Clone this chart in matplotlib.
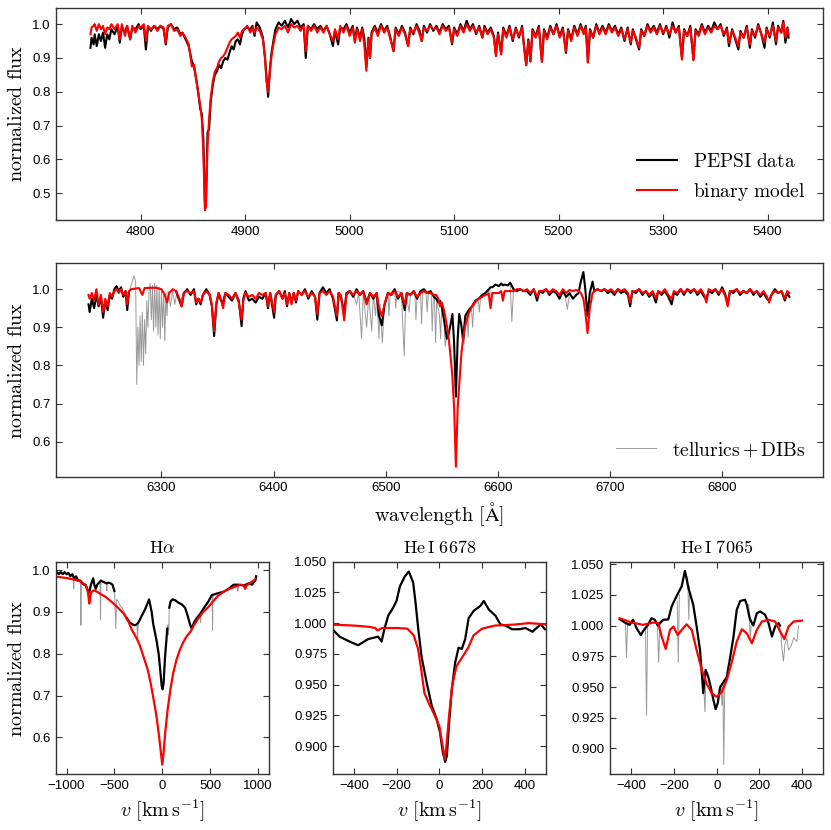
import numpy as np
import matplotlib
matplotlib.use('Agg')
import matplotlib.pyplot as plt
from matplotlib.ticker import FormatStrFormatter, MultipleLocator

nan = np.nan

# ---- top panel: 4750-5420 A (PEPSI blue arm) ----
top_wl = [4752, 4753, 4755, 4756, 4758, 4760, 4762, 4764, 4766, 4768,
          4770, 4772, 4775, 4778, 4780, 4782, 4785, 4787, 4790, 4792,
          4795, 4798, 4800, 4803, 4805, 4807, 4810, 4813, 4816, 4819,
          4822, 4824, 4826, 4829, 4832, 4835, 4838, 4840, 4843, 4846,
          4849, 4851, 4853, 4855, 4857, 4858.5, 4860, 4861.5, 4862.5, 4864,
          4865.5, 4867, 4869, 4871, 4873, 4875, 4877, 4879, 4881, 4883,
          4885, 4887, 4889, 4891, 4893, 4895, 4897, 4899, 4902, 4905,
          4907, 4909, 4911, 4914, 4917, 4919, 4920.5, 4922, 4923.5, 4925,
          4927, 4929, 4932, 4935, 4938, 4941, 4944, 4947, 4950, 4953,
          4956, 4958, 4960, 4963, 4966, 4969, 4972, 4975, 4978, 4981,
          4984, 4986, 4989, 4991, 4994, 4997, 5000, 5003, 5005, 5007,
          5010, 5012, 5014, 5016, 5018, 5019.5, 5021, 5024, 5027, 5030,
          5033, 5036, 5039, 5042, 5044, 5047, 5050, 5053, 5056, 5058,
          5061, 5064, 5067, 5069, 5071, 5074, 5077, 5080, 5083, 5086,
          5089, 5092, 5095, 5098, 5100, 5103, 5106, 5109, 5112, 5115,
          5118, 5121, 5124, 5127, 5129, 5132, 5135, 5138, 5140, 5142,
          5145, 5147, 5150, 5153, 5156, 5159, 5162, 5165, 5167, 5169,
          5171, 5173, 5175, 5178, 5181, 5184, 5186, 5189, 5192, 5195,
          5198, 5201, 5204, 5207, 5209, 5212, 5215, 5218, 5221, 5224,
          5226, 5228, 5230, 5233, 5236, 5239, 5242, 5245, 5248, 5251,
          5254, 5257, 5260, 5263, 5266, 5269, 5271, 5274, 5277, 5279,
          5282, 5285, 5288, 5291, 5294, 5297, 5300, 5303, 5306, 5309,
          5312, 5315, 5318, 5320, 5323, 5326, 5329, 5331, 5334, 5337,
          5340, 5343, 5346, 5349, 5352, 5355, 5358, 5361, 5363, 5366,
          5369, 5372, 5374, 5377, 5380, 5383, 5385, 5388, 5391, 5394,
          5397, 5399, 5402, 5405, 5408, 5410, 5413, 5415, 5417, 5419,
          5420]
top_data = [.93, .96, .94, .97, .935, .97, .95, .975, .93, .97,
            .955, .985, .97, .995, .945, .99, .975, .995, .955, .99,
            .985, 1.0, .985, .995, .925, .99, .98, .995, .985, .995,
            .985, .94, .99, 1.0, .985, .99, .97, .975, .955, .935,
            .89, .875, .84, .80, .75, .735, .66, .47, .48, .68,
            .69, .77, .82, .85, .86, .88, .87, .89, .90, .895,
            .915, .935, .925, .95, .955, .94, .97, .985, .99, .985,
            .995, .965, 1.005, .99, .96, .90, .84, .785, .86, .91,
            .95, .985, 1.005, .995, 1.01, .99, 1.015, 1.0, 1.01, .99,
            1.0, .90, .995, .985, 1.0, .985, .995, .98, .995, .97,
            .935, .98, .94, .99, .985, 1.0, .975, .995, .95, .99,
            .96, .99, .96, .875, .96, .90, .975, .995, .975, 1.0,
            .98, .995, .96, .92, .99, .97, .995, .975, .935, .99,
            .97, 1.0, .98, .95, .995, .975, 1.0, .98, .995, .975,
            1.0, .985, .995, .94, .99, .97, 1.0, .98, 1.01, .985,
            1.0, .97, .995, .96, .995, .975, .99, .965, .91, .975,
            .915, .99, .965, .995, .95, .99, .96, .995, .93, .88,
            .955, .89, .985, .965, .995, .89, .985, .96, .995, .97,
            1.0, .965, .99, .915, .985, .955, .995, .97, 1.0, .975,
            .995, .888, .985, .96, 1.0, .975, .995, .975, 1.0, .98,
            .995, .97, .99, .95, .99, .94, .985, .955, .925, .985,
            .965, 1.0, .98, .995, .975, 1.0, .97, .995, .96, 1.005,
            .975, .995, .90, .985, .965, .995, .895, .985, .97, 1.0,
            .975, .995, .98, 1.005, .985, 1.0, .965, .99, .935, .985,
            .955, .925, .98, .96, .995, .93, .985, .96, 1.0, .97,
            .93, .99, .96, 1.005, .94, .995, .975, 1.01, .945, .99,
            .96]
top_model = [.97, .99, .995, 1.0, .98, 1.0, .985, .995, .97, .99,
             .985, 1.0, .985, 1.0, .955, 1.0, .965, .995, .955, .995,
             .975, .995, .99, 1.0, .95, .995, .985, .995, .98, .995,
             .99, .945, .995, 1.0, .98, .985, .965, .975, .96, .94,
             .875, .88, .84, .80, .76, .72, .62, .45, .46, .64,
             .72, .78, .83, .86, .87, .89, .90, .905, .915, .93,
             .945, .955, .96, .965, .975, .96, .98, .985, .995, .975,
             .99, .975, .99, .98, .955, .90, .83, .80, .85, .90,
             .94, .97, .99, .985, .995, .975, 1.0, .99, .995, .98,
             .995, .92, .995, .98, .995, .975, .99, .975, .995, .97,
             .95, .985, .955, .995, .975, .995, .965, .99, .945, .985,
             .95, .985, .94, .862, .955, .90, .97, .99, .965, .995,
             .975, .99, .955, .92, .985, .965, .99, .97, .935, .985,
             .975, .995, .97, .95, .99, .98, .995, .985, .99, .97,
             .995, .98, .99, .945, .985, .965, .995, .975, 1.0, .98,
             .995, .975, .99, .96, .99, .97, .985, .96, .905, .97,
             .91, .985, .96, .99, .955, .985, .965, .99, .93, .878,
             .95, .89, .98, .96, .99, .888, .98, .955, .99, .97,
             .995, .96, .985, .92, .98, .95, .99, .965, .995, .97,
             .99, .886, .98, .96, .995, .97, .99, .97, .995, .975,
             .99, .965, .985, .955, .985, .945, .98, .96, .93, .98,
             .965, .995, .975, .99, .97, .995, .975, .99, .97, .995,
             .975, .99, .895, .98, .965, .99, .893, .98, .965, .995,
             .97, .99, .975, .995, .985, .995, .97, .985, .945, .98,
             .96, .935, .975, .96, .99, .94, .98, .965, .995, .97,
             .945, .985, .965, .995, .95, .99, .975, 1.005, .96, .985,
             .97]

# ---- middle panel: 6235-6860 A (PEPSI red arm) ----
mid_wl = [6235, 6236, 6238, 6240, 6242, 6244, 6246, 6248, 6250, 6252,
          6254, 6256, 6258, 6260, 6262, 6264, 6266, 6268, 6269.5, 6271,
          6273, 6280, 6283, 6285, 6295, 6300, 6303, 6305, 6307, 6310,
          6313, 6316, 6318, 6320, 6323, 6326, 6329, 6331, 6333, 6335,
          6337, 6340, 6343, 6345, 6347, 6349, 6351, 6353, 6355, 6357,
          6360, 6363, 6366, 6369, 6371.5, 6373, 6375, 6378, 6381, 6384,
          6387, 6390, 6393, 6395, 6397, 6400.5, 6402, 6405, 6408, 6410,
          6412, 6414, 6416, 6418, 6420, 6422, 6425, 6428, 6431, 6434,
          6437, 6439, 6441, 6444, 6447, 6450, 6453, 6456.5, 6458, 6460,
          6463, 6465, 6468, 6471, 6474, 6477, 6480, 6483, 6486, 6489,
          6492, 6494, 6496.5, 6499, 6502, 6505, 6508, 6511, 6514, 6517,
          6519, 6522, 6525, 6528, 6531, 6534, 6537, 6540, 6543, 6545,
          6547, 6548.5, 6550, 6552, 6554.5, 6556, 6558, 6559.5, 6561, 6562.6,
          6564.2, 6565.6, 6567.5, 6569, 6571, 6574, 6577, 6580, 6583, 6586,
          6589, 6592, 6593.5, 6595, 6598, 6601, 6603, 6604.5, 6606, 6609,
          6611, 6614, 6617, 6620, 6623, 6626, 6629, 6632, 6635, 6637,
          6640, 6643, 6646, 6649, 6652, 6655, 6658, 6661, 6664, 6667,
          6670, 6672, 6674, 6676.3, 6678, 6680, 6682, 6684.5, 6686, 6689,
          6692, 6695, 6698, 6701, 6704, 6707, 6710, 6713, 6716, 6718,
          6720, 6723, 6726, 6729, 6732, 6735, 6738, 6741, 6743, 6746,
          6749, 6752, 6755, 6757, 6760, 6763, 6766, 6769, 6772, 6775,
          6778, 6781, 6784, 6786, 6788, 6791, 6794, 6797, 6800, 6803,
          6805, 6807, 6810, 6813, 6816, 6819, 6822, 6825, 6828, 6831,
          6834, 6837, 6840, 6842, 6844, 6847, 6850, 6853, 6856, 6858,
          6860]
mid_data = [.96, .94, .975, .95, .985, .955, .98, .925, .97, .945,
            .985, .975, 1.0, 1.008, .995, 1.005, .98, .995, .945, .99,
            nan, nan, nan, nan, nan, nan, nan, nan, nan, nan,
            .995, .97, .955, .99, 1.0, .985, 1.0, .96, .975, .96,
            .985, 1.0, .985, .955, .877, .96, .99, .97, .965, .99,
            .98, .97, .99, .97, .903, .975, .995, .97, .975, .965,
            .98, .975, .99, .95, .99, .925, .985, .995, .975, .995,
            .955, .99, .965, .99, .965, .995, .985, 1.0, .975, .995,
            .98, .92, .99, 1.005, .99, 1.0, .975, .918, .99, .98,
            .94, .99, .995, .98, 1.0, .985, .995, .965, .99, .975,
            .99, .93, .905, .96, .99, .985, 1.0, .975, .99, .945,
            .99, .985, .995, .975, .995, 1.0, .99, .995, .98, .975,
            .965, .97, .955, .92, .87, .88, .91, .935, .86, .718,
            .87, .935, .905, .866, .93, .945, .955, .97, .975, .985,
            .99, 1.0, 1.005, 1.005, 1.012, 1.008, 1.015, 1.01, 1.012, 1.01,
            1.017, 1.0, .995, 1.0, .995, .995, .985, 1.0, .97, .995,
            .99, 1.0, .985, .995, .99, .975, .995, .98, .99, .975,
            .985, .99, 1.02, 1.045, 1.0, .93, .99, 1.02, .995, 1.0,
            .995, 1.0, .99, .995, .985, 1.0, .99, .995, .985, .955,
            .995, .99, 1.0, .985, .995, .98, .99, .965, .995, .985,
            .995, .98, .96, .99, .985, 1.0, .985, 1.0, .99, 1.0,
            .985, .995, .98, .975, .995, .99, 1.0, .985, 1.005, .985,
            .96, .995, .99, 1.0, .985, .995, .99, 1.0, .985, .995,
            .98, .99, .975, .97, .985, 1.0, .99, .995, .97, .99,
            .98]
mid_model = [.985, .975, .99, .97, 1.0, .96, .985, .94, .975, .955,
             .99, .98, .995, 1.0, .99, 1.0, .985, .995, .96, .995,
             1.0, 1.003, .985, 1.003, 1.004, 1.0, .985, .965, .99, 1.0,
             .995, .975, .955, .99, .995, .99, .995, .965, .975, .965,
             .985, .995, .985, .96, .89, .965, .99, .975, .95, .99,
             .985, .975, .99, .965, .92, .97, .99, .98, .985, .975,
             .99, .985, .99, .955, .99, .94, .985, .995, .975, .99,
             .96, .99, .96, .99, .97, .995, .985, .995, .98, .99,
             .98, .935, .99, .995, .985, .995, .98, .93, .99, .985,
             .918, .985, .995, .985, .995, .985, .995, .96, .99, .98,
             .99, .95, .93, .96, .99, .985, .995, .98, .99, .96,
             .99, .985, .995, .98, .99, .995, .99, .99, .985, .985,
             .975, .955, .965, .945, .905, .876, .82, .77, .69, .534,
             .69, .75, .83, .87, .905, .937, .955, .968, .975, .98,
             .985, .988, .95, .99, .99, .99, .995, .97, .995, .995,
             .995, .995, 1.0, 1.0, .995, 1.0, .99, 1.0, .98, .995,
             .995, 1.0, .99, 1.0, .995, .985, 1.0, .99, .998, .995,
             .998, .995, .99, .975, .94, .885, .95, .99, .995, 1.0,
             .995, 1.0, .995, 1.0, .99, 1.0, .995, 1.0, .99, .965,
             .995, .995, 1.0, .99, .995, .985, .995, .975, .995, .99,
             1.0, .985, .975, .995, .99, 1.0, .99, 1.0, .995, 1.0,
             .99, 1.0, .985, .965, 1.0, .995, 1.0, .99, 1.0, .98,
             .955, .995, .995, 1.0, .99, .995, .99, 1.0, .99, .995,
             .985, .995, .98, .965, .985, .995, .99, .995, .975, .995,
             .99]
mid_tell_wl = [6268, 6270, 6272, 6274, 6275.5, 6277, 6278, 6279, 6280, 6281,
               6282, 6283, 6284, 6285, 6286, 6287, 6288, 6289, 6290, 6291,
               6292, 6293, 6294, 6295, 6296, 6297, 6298, 6299, 6300, 6301,
               6302, 6303, 6304, 6305, 6306, 6308, 6310, 6312, 6314, 6317,
               6320, nan,
               6472, 6474, 6476, 6478.5, 6480, 6483, 6485, 6487.5, 6489, 6491,
               6492, 6494, 6495, 6497, 6499, 6502, 6503, 6504, 6508, 6509,
               6510, 6514, 6516.5, 6518, 6521, 6522, 6526, 6527, 6528, 6531,
               6532, 6533, 6536, 6537, 6538, 6540.5, 6541.5, 6542.5, 6543.5, 6544.5,
               6545.5, 6548, 6549, 6550, 6552, 6553, 6554, nan,
               6568.5, 6570, 6571, 6572.5, 6573.5, 6574.5, 6576.5, 6577.5, 6578.5, 6582.5,
               6583.5, 6584.5, 6591.5, 6592.5, 6593, nan,
               6611, 6612.5, 6614, nan, 6660, 6662, 6664]
mid_tell = [.995, .99, 1.0, 1.02, 1.035, 1.02, .75, .90, .80, .93,
            .81, .94, .80, .92, .83, .97, .90, 1.0, 1.015, .92,
            1.01, .89, 1.015, .90, 1.01, .88, 1.005, .87, 1.0, .90,
            .995, .865, .99, .93, .995, .955, .995, .96, .995, .97,
            .99, nan,
            .98, .96, .99, .87, .99, .90, .985, .89, .985, .93,
            .99, .87, .96, .86, .96, .99, .93, .99, 1.0, .95,
            .995, .99, .825, .99, .94, .985, .99, .92, .98, .995,
            .91, .995, .99, .94, .99, .995, .89, .98, .975, .86,
            .97, .93, .87, .955, .92, .85, .87, nan,
            .875, .855, .93, .94, .875, .945, .95, .90, .955, .97,
            .94, .975, 1.0, .96, 1.0, nan,
            1.015, .915, 1.0, nan, .985, .947, .99]

# ---- bottom panels: velocity space ----
ha_v_data = [-1105, -1080, -1060, -1040, -1020, -1000, -980, -960, -940, -920,
             -900, -880, -860, -840, -820, -800, -785, -770, -760, -745,
             -730, -722, -710, -695, -680, -660, -640, -620, -600, -580,
             -560, -540, -520, -500, -490, -370, -340, -310, -285, -268,
             -248, -216, -182, -155, -138, -111, -94, -76, -59, -38,
             -21, -7, 3, 14, 28, 42, 52, 62, 73, 87,
             108, 133, 168, 203, 238, 266, 290, 308, 332, 360,
             395, 437, 482, 517, 587, 640, 692, 745, 797, 850,
             902, 937, 972, 980]
ha_data = [.996, .99, .995, .99, .995, .99, .993, .985, .99, .98,
           .985, .975, .975, .97, .965, .965, .955, .945, .95, .965,
           .975, .98, .965, .955, .965, .97, .975, .972, .97, .968,
           .97, .968, .965, .95, nan, .885, .875, .87, .868, .87,
           .875, .89, .905, .92, .93, .90, .87, .85, .83, .80,
           .76, .725, .715, .73, .79, .83, .86, nan, .91, .925,
           .93, .928, .922, .918, .91, .89, .87, .86, .875, .885,
           .895, .91, .925, .94, .945, .948, .955, .965, .965, .963,
           .968, .965, .975, .985]
ha_v_model = [-1105, -1000, -900, -850, -800, -780, -770, -762, -755, -745,
              -730, -710, -680, -640, -600, -550, -500, -450, -400, -350,
              -320, -300, -270, -240, -210, -180, -150, -120, -90, -60,
              -35, -15, 0, 12, 30, 55, 85, 115, 150, 185,
              220, 255, 285, 300, 330, 370, 420, 475, 530, 580,
              640, 700, 760, 820, 850, 865, 880, 920, 975]
ha_model = [.984, .981, .976, .972, .963, .952, .935, .92, .93, .945,
            .95, .951, .948, .942, .937, .928, .918, .907, .895, .875,
            .858, .85, .838, .823, .803, .782, .76, .728, .69, .65,
            .605, .565, .535, .56, .61, .665, .715, .755, .787, .81,
            .828, .842, .85, .855, .868, .882, .898, .91, .925, .938,
            .948, .955, .96, .965, .963, .955, .963, .97, .978]
ha_v_tell = [-930, -925, -920, nan, -855, -850, -845, nan, -650, -645, -640, nan, -585, -580, -575, nan,
             -500, -485, -478, -460, -440, -420, -400, -385, -370, nan,
             -265, -258, -250, nan, 48, 55, 62, 66, 72, nan,
             395, 400, 405, nan, 520, 525, 530, nan, 785, 790, 795]
ha_tell = [.99, .955, .985, nan, .975, .868, .975, nan, .97, .882, .972, nan, .968, .95, .968, nan,
           .95, .86, .93, .925, .915, .91, .90, .895, .885, nan,
           .87, .835, .875, nan, .85, .865, .87, .845, .905, nan,
           .895, .875, .90, nan, .94, .855, .942, nan, .965, .95, .965]

he1_v_data = [-507, -468, -421, -381, -334, -287, -271, -258, -240, -217,
              -201, -185, -162, -143, -123, -112, -99, -83, -60, -36,
              -13, 3, 16, 27, 35, 46, 58, 74, 90, 105,
              121, 137, 161, 192, 208, 232, 263, 286, 310, 341,
              373, 404, 436, 475, 495]
he1_data = [.996, .989, .985, .982, .987, .989, .985, .995, 1.006, 1.0125,
            1.018, 1.030, 1.038, 1.042, 1.033, 1.017, .995, .972, .952, .933,
            .922, .911, .895, .887, .892, .92, .946, .968, .98, .979,
            .987, 1.004, 1.01, 1.014, 1.018, 1.011, 1.006, .999, .998, .995,
            .995, .996, .993, .999, .995]
he1_v_model = [-505, -400, -330, -300, -290, -280, -270, -200, -150, -120,
               -100, -85, -70, -50, -25, 0, 15, 25, 33, 45,
               60, 80, 110, 135, 160, 200, 260, 350, 420, 460, 505]
he1_model = [.9988, .998, .997, .996, .994, .995, .996, .996, .9955, .99,
             .979, .962, .943, .935, .926, .916, .90, .889, .90, .924,
             .949, .965, .973, .98, .99, .9955, .998, .9988, 1.0, .9995, .9988]

he2_v_data = [-455, -431, -408, -392, -376, -356, -341, -322, -306, -290,
              -276, -251, -227, -211, -199, -185, -164, -149, -141, -133,
              -110, -94, -78, -63, -52, -39, -28, -16, -5, 5,
              16, 24, 47, 63, 78, 94, 110, 133, 141, 156,
              172, 188, 204, 227, 243, 259, 274, 290, 297]
he2_data = [1.0052, 1.0025, 1.0006, 1.0047, .998, .9924, .9965, 1.0006, 1.006, 1.0047,
            1.0, 1.0047, 1.005, 1.0156, 1.02, 1.025, 1.032, 1.0445, 1.038, 1.031,
            1.017, .9992, .98, .945, .964, .958, .95, .94, .932, .937,
            .95, .952, .958, .974, .99, 1.0128, 1.02, 1.021, 1.017, 1.005,
            1.0, 1.01, 1.0115, 1.0088, 1.002, .9911, .9992, 1.002, 1.0]
he2_v_model = [-455, -400, -345, -298, -274, -258, -239, -219, -203, -183,
               -164, -141, -117, -94, -70, -47, -24, 0, 24, 47,
               71, 94, 118, 141, 165, 188, 212, 243, 274, 298,
               317, 337, 361, 400]
he2_model = [1.006, 1.0025, 1.0006, 1.0025, 1.002, .991, .981, .9965, .9992, .9924,
             .9965, 1.001, .9965, .98, .964, .9528, .945, .942, .946, .9556,
             .9705, .987, .997, .9937, .9856, .9965, 1.0033, 1.0047, 1.0033, .995,
             .989, .9992, 1.0033, 1.004]
he2_v_tell = [-428, -423, -418, nan, -334, -329, -324, nan, -278, -272, -266, nan,
              -185, -180, -175, nan, -136, -131, -127, nan, -60, -55, -50, nan,
              20, 25, 29, 33, 38, nan, 150, 157, 164, nan,
              290, 300, 305, 313, 320, 329, 337, 348, 361, 376, 384]
he2_tell = [1.002, .974, 1.0, nan, .998, .927, 1.0, nan, 1.0, .97, 1.004, nan,
            1.02, .97, 1.025, nan, 1.04, 1.005, 1.032, nan, .948, .93, .962, nan,
            .95, .935, .952, .887, .955, nan, 1.017, .99, 1.005, nan,
            1.002, .995, .983, .971, .985, .99, .98, .983, .99, .987, 1.0]

# ---- style ----
plt.rcParams['font.family'] = ['Liberation Sans', 'DejaVu Sans']
plt.rcParams['mathtext.fontset'] = 'cm'
plt.rcParams['axes.linewidth'] = 1.0
plt.rcParams['axes.edgecolor'] = '0.2'

LABEL_FS = 14.5
TELL_COL = '0.6'


def style(ax):
    ax.tick_params(which='both', direction='in', top=True, right=True,
                   length=4, width=0.8, labelsize=9.5, pad=4, color='0.2')


fig = plt.figure(figsize=(8.31, 8.30), dpi=100)

# top
ax1 = fig.add_axes([0.0674, 0.7349, 0.9230, 0.2560])
ax1.plot(top_wl, top_data, color='k', lw=1.5, label=r'$\mathrm{PEPSI\ data}$')
ax1.plot(top_wl, top_model, color='red', lw=1.5, label=r'$\mathrm{binary\ model}$')
ax1.set_xlim(4719, 5453)
ax1.set_ylim(0.421, 1.049)
ax1.xaxis.set_major_locator(MultipleLocator(100))
ax1.yaxis.set_major_locator(MultipleLocator(0.1))
ax1.yaxis.set_major_formatter(FormatStrFormatter('%.1f'))
ax1.set_ylabel(r'$\mathrm{normalized\ flux}$', fontsize=LABEL_FS)
ax1.legend(loc='lower right', frameon=False, fontsize=14, handlelength=2.1)
style(ax1)

# middle
ax2 = fig.add_axes([0.0674, 0.4257, 0.9230, 0.2571])
ax2.plot(mid_tell_wl, mid_tell, color=TELL_COL, lw=0.7, label=r'$\mathrm{tellurics} + \mathrm{DIBs}$')
ax2.plot(mid_wl, mid_data, color='k', lw=1.5)
ax2.plot(mid_wl, mid_model, color='red', lw=1.5)
ax2.set_xlim(6206, 6890)
ax2.set_ylim(0.508, 1.068)
ax2.xaxis.set_major_locator(MultipleLocator(100))
ax2.yaxis.set_major_locator(MultipleLocator(0.1))
ax2.yaxis.set_major_formatter(FormatStrFormatter('%.1f'))
ax2.set_ylabel(r'$\mathrm{normalized\ flux}$', fontsize=LABEL_FS)
ax2.set_xlabel(r'$\mathrm{wavelength\ [\AA]}$', fontsize=LABEL_FS)
ax2.legend(loc='lower right', frameon=False, fontsize=14, handlelength=2.1)
style(ax2)

# bottom row
w = 0.2567
h = 0.2562
axa = fig.add_axes([0.0674, 0.0671, w, h])
axb = fig.add_axes([0.4004, 0.0671, w, h])
axc = fig.add_axes([0.7341, 0.0671, w, h])

axa.plot(ha_v_tell, ha_tell, color=TELL_COL, lw=0.7)
axa.plot(ha_v_data, ha_data, color='k', lw=1.6)
axa.plot(ha_v_model, ha_model, color='red', lw=1.6)
axa.set_xlim(-1110, 1118)
axa.set_ylim(0.512, 1.02)
axa.yaxis.set_major_locator(MultipleLocator(0.1))
axa.yaxis.set_major_formatter(FormatStrFormatter('%.1f'))
axa.xaxis.set_major_locator(MultipleLocator(500))
axa.set_title(r'$\mathrm{H}\alpha$', fontsize=13)
axa.set_ylabel(r'$\mathrm{normalized\ flux}$', fontsize=LABEL_FS)

axb.plot(he1_v_data, he1_data, color='k', lw=1.6)
axb.plot(he1_v_model, he1_model, color='red', lw=1.6)
axb.set_xlim(-500, 500)
axb.set_ylim(0.877, 1.05)
axb.set_title(r'$\mathrm{He\,I\ 6678}$', fontsize=13)

axc.plot(he2_v_tell, he2_tell, color=TELL_COL, lw=0.7)
axc.plot(he2_v_data, he2_data, color='k', lw=1.6)
axc.plot(he2_v_model, he2_model, color='red', lw=1.6)
axc.set_xlim(-500, 500)
axc.set_ylim(0.879, 1.052)
axc.set_title(r'$\mathrm{He\,I\ 7065}$', fontsize=13)

for ax in (axb, axc):
    ax.xaxis.set_major_locator(MultipleLocator(200))
    ax.yaxis.set_major_locator(MultipleLocator(0.025))
    ax.yaxis.set_major_formatter(FormatStrFormatter('%.3f'))

for ax in (axa, axb, axc):
    ax.set_xlabel(r'$v\ [\mathrm{km\,s^{-1}}]$', fontsize=LABEL_FS)
    style(ax)

fig.savefig('out.png', dpi=100)
